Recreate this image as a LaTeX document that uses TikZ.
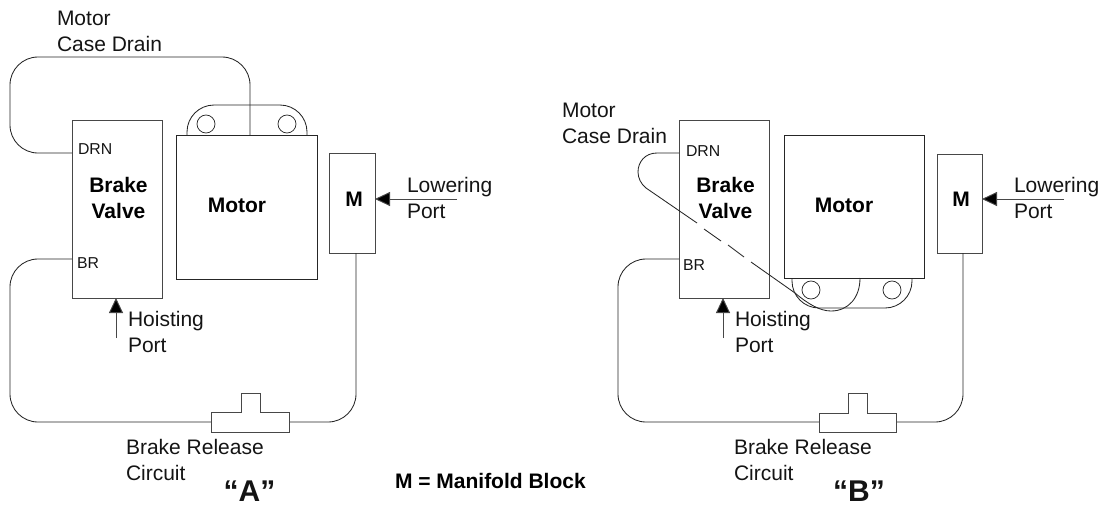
\documentclass[tikz,border=0pt]{standalone}
\usepackage{fontspec}
\setmainfont{Liberation Sans}
\usetikzlibrary{arrows.meta}
\tikzset{
  boxshape/.style={draw=black!72,line width=1pt,rectangle,inner sep=0pt,outer sep=0pt},
  thinline/.style={draw=black!85,line width=0.85pt},
  hose/.style={thinline,rounded corners=28pt},
  tabline/.style={thinline,rounded corners=27pt},
  lug/.style={draw=black!85,line width=0.75pt,circle,inner sep=0pt,outer sep=0pt,minimum size=18pt},
  portarrow/.style={draw=black!72,line width=0.95pt,-{Triangle[length=15pt,width=14pt,fill=black]}},
  lbl/.style={anchor=north west,inner sep=0pt,outer sep=0pt,align=left,text=black!92,font=\fontsize{21}{26.3}\selectfont},
  boldlbl/.style={anchor=north,inner sep=0pt,outer sep=0pt,align=center,text=black,font=\fontsize{21}{26}\selectfont\bfseries},
  portlbl/.style={anchor=base west,inner sep=0pt,outer sep=0pt,text=black!92,font=\fontsize{15.8}{18}\selectfont},
  biglbl/.style={anchor=base,inner sep=0pt,outer sep=0pt,text=black!92,font=\fontsize{30}{33}\selectfont\bfseries}
}
\begin{document}
\begin{tikzpicture}[x=1pt,y=-1pt]
\useasboundingbox (0,0) rectangle (1102,504);
% ---------- Diagram A ----------
\node[boxshape,minimum width=90pt,minimum height=178pt] (valveA) at (117,209) {};
\node[boxshape,draw=black!85,minimum width=141pt,minimum height=144pt] (motorA) at (246.5,207) {};
\node[boxshape,minimum width=46pt,minimum height=100pt] (mA) at (352,203) {};
\node[lug] (lugA1) at (206,124) {};
\node[lug] (lugA2) at (287,124) {};
\draw[tabline] (187,135) -- (187,105) -- (307,105) -- (307,135);
\coordinate (drnA) at (72,153);
\coordinate (brA) at (72,259);
\coordinate (motorTopA) at (250,135);
\coordinate (mOutA) at (356,253);
\coordinate (teeAw) at (211,422);
\coordinate (teeAe) at (289,422);
\coordinate (hoistA) at (116,338);
\coordinate (lowA) at (457,199);
\draw[hose] (drnA) -- (10,153) -- (10,57) -- (250,57) -- (motorTopA);
\draw[hose] (brA) -- (10,259) -- (10,422) -- (teeAw);
\draw[hose] (teeAe) -- (356,422) -- (mOutA);
\draw[boxshape] (241,412) -- (241,393) -- (260,393) -- (260,412) -- (289,412) -- (289,432) -- (211,432) -- (211,412) -- cycle;
\draw[portarrow] (hoistA) -- (hoistA |- valveA.south);
\draw[portarrow] (lowA) -- (lowA -| mA.east);
\node[lbl] (caseA) at (57,6.8) {\strut Motor\\Case Drain};
\node[boldlbl] (nameValveA) at (118.5,173.8) {\strut Brake\\Valve};
\node[boldlbl] (nameMotorA) at (237,193.8) {\strut Motor};
\node[boldlbl] (nameMA) at (354,187.8) {\strut M};
\node[portlbl] (labDrnA) at (78,154) {DRN};
\node[portlbl] (labBrA) at (77,268) {BR};
\node[lbl] (lowLabA) at (407,173.8) {\strut Lowering\\Port};
\node[lbl] (hoistLabA) at (128,307.8) {\strut Hoisting\\Port};
\node[lbl] (relLabA) at (126,435.8) {\strut Brake Release\\Circuit};
\node[biglbl] (titleA) at (249.5,501) {“A”};
% ---------- Centre note ----------
\node[anchor=base west,inner sep=0pt,outer sep=0pt,text=black,font=\fontsize{21}{24}\selectfont\bfseries] (note) at (395,488) {M = Manifold Block};
% ---------- Diagram B ----------
\node[boxshape,minimum width=90pt,minimum height=178pt] (valveB) at (724,209) {};
\node[boxshape,draw=black!85,minimum width=140pt,minimum height=143pt] (motorB) at (854,206.5) {};
\node[boxshape,minimum width=45pt,minimum height=99pt] (mB) at (959.5,203.5) {};
\node[lug] (lugB1) at (811,290) {};
\node[lug] (lugB2) at (892,290) {};
\draw[tabline] (792,278) -- (792,308) -- (912,308) -- (912,278);
\coordinate (drnB) at (679,153);
\coordinate (brB) at (679,259);
\coordinate (motorBotB) at (860,278);
\coordinate (mOutB) at (963,253);
\coordinate (teeBw) at (819,422);
\coordinate (teeBe) at (896,422);
\coordinate (hoistB) at (723,338);
\coordinate (lowB) at (1064,199);
\draw[thinline] (drnB) -- (657,153) .. controls (645,153) and (638,162) .. (638,172)
  .. controls (638,178) and (641,184) .. (646,188) -- (697,223)
  (704,229) -- (721,241)
  (728,245) -- (744,257)
  (751,262) -- (795,293) .. controls (808,304) and (820,311) .. (831,311)
  .. controls (848,311) and (860,298) .. (motorBotB);
\draw[hose] (brB) -- (618,259) -- (618,422) -- (teeBw);
\draw[hose] (teeBe) -- (963,422) -- (mOutB);
\draw[boxshape] (848,413) -- (848,393) -- (867,393) -- (867,413) -- (896,413) -- (896,432) -- (819,432) -- (819,413) -- cycle;
\draw[portarrow] (hoistB) -- (hoistB |- valveB.south);
\draw[portarrow] (lowB) -- (lowB -| mB.east);
\node[lbl] (caseB) at (562,98.8) {\strut Motor\\Case Drain};
\node[boldlbl] (nameValveB) at (725.5,173.8) {\strut Brake\\Valve};
\node[boldlbl] (nameMotorB) at (844,193.8) {\strut Motor};
\node[boldlbl] (nameMB) at (961,187.8) {\strut M};
\node[portlbl] (labDrnB) at (686,156) {DRN};
\node[portlbl] (labBrB) at (683,270) {BR};
\node[lbl] (lowLabB) at (1014,173.8) {\strut Lowering\\Port};
\node[lbl] (hoistLabB) at (735,307.8) {\strut Hoisting\\Port};
\node[lbl] (relLabB) at (734,435.8) {\strut Brake Release\\Circuit};
\node[biglbl] (titleB) at (859,501) {“B”};
\end{tikzpicture}
\end{document}
